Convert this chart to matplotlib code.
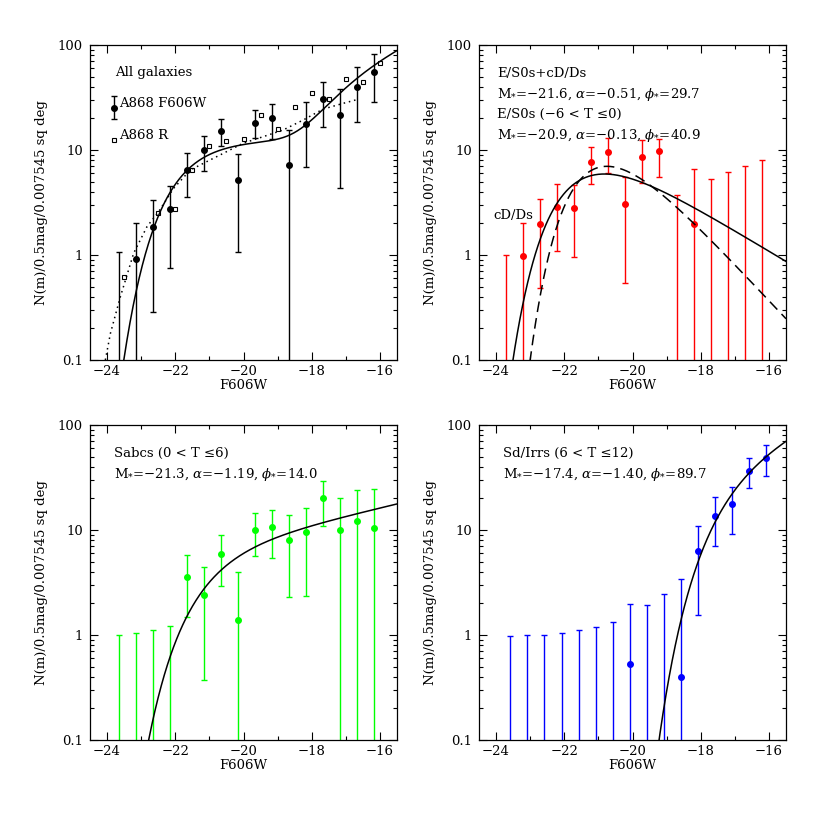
import numpy as np
import matplotlib
matplotlib.use('Agg')
import matplotlib.pyplot as plt
from matplotlib.ticker import MultipleLocator, LogLocator, NullFormatter

plt.rcParams['font.family'] = ['DejaVu Serif']
plt.rcParams['mathtext.fontset'] = 'dejavuserif'

nan = np.nan

# ---------------- data ----------------
# bin centres (F606W absolute magnitude)
x_tl = [-23.66, -23.16, -22.66, -22.16, -21.66, -21.16, -20.66, -20.16,
        -19.66, -19.16, -18.66, -18.16, -17.66, -17.16, -16.66, -16.16]
x_tr = [-23.71, -23.21, -22.71, -22.21, -21.71, -21.21, -20.71, -20.21,
        -19.71, -19.21, -18.71, -18.21, -17.71, -17.21, -16.71, -16.21]
x_br = [-23.58, -23.08, -22.58, -22.08, -21.58, -21.08, -20.58, -20.08,
        -19.58, -19.08, -18.58, -18.08, -17.58, -17.08, -16.58, -16.08]

# All galaxies, A868 F606W
all_y = [nan, 0.91, 1.86, 2.72, 6.45, 10.0, 15.3, 5.18, 18.2, 20.0, 7.2, 17.7, 30.6, 21.5, 40.1, 55.7]
all_lo = [0, 0, 0.289, 0.758, 3.6, 6.35, 10.8, 1.06, 13.1, 12.7, 0, 6.95, 16.7, 4.38, 18.3, 28.9]
all_hi = [1.07, 2.0, 3.34, 4.57, 9.3, 13.7, 19.7, 9.15, 24.0, 27.4, 15.5, 28.6, 44.8, 38.1, 61.3, 81.4]

# A868 R counts
r_x = [-23.5, -22.5, -22.0, -21.5, -21.0, -20.5, -20.0, -19.5, -19.0, -18.5,
       -18.0, -17.5, -17.0, -16.5, -16.0]
r_y = [0.62, 2.53, 2.74, 6.45, 10.8, 12.3, 12.6, 21.6, 15.8, 25.5, 34.7, 30.6, 47.1, 44.0, 68.0]

# dotted comparison curve
dot_x = [-24.05, -23.90, -23.61, -23.22, -22.83, -22.49, -22.05, -21.56, -21.08,
         -20.59, -20.01, -19.42, -18.84, -18.25, -17.67, -17.08, -16.64]
dot_y = [0.10, 0.18, 0.40, 1.04, 1.86, 2.58, 4.31, 6.45, 7.74,
         9.3, 11.6, 13.4, 15.5, 19.3, 24.5, 27.8, 30.4]

# E/S0s + cD/Ds
es_y = [nan, 0.98, 1.96, 2.89, 2.82, 7.74, 9.5, 3.06, 8.5, 9.7, nan, 1.99, nan, nan, nan, nan]
es_lo = [0, 0, 0.48, 1.09, 0.95, 4.74, 6.0, 0.545, 4.8, 5.5, 0, 0, 0, 0, 0, 0]
es_hi = [1.01, 2.0, 3.39, 4.71, 4.64, 10.6, 12.9, 5.57, 12.5, 12.7, 3.70, 6.55, 5.25, 6.13, 7.05, 7.96]

# Sabcs
sp_y = [nan, nan, nan, nan, 3.6, 2.4, 5.9, 1.39, 10.1, 10.6, 8.0, 9.5, 20.0, 10.0, 12.2, 10.4]
sp_lo = [0, 0, 0, 0, 1.5, 0.373, 2.93, 0, 5.7, 5.37, 2.28, 2.35, 10.9, 0, 0, 0]
sp_hi = [1.01, 1.05, 1.11, 1.22, 5.74, 4.47, 8.9, 4.01, 14.5, 15.4, 13.9, 16.3, 29.1, 20.2, 24.2, 24.8]

# Sd/Irrs
sd_y = [nan, nan, nan, nan, nan, nan, nan, 0.53, nan, nan, 0.395, 6.3, 13.6, 17.6, 36.7, 48.8]
sd_lo = [0, 0, 0, 0, 0, 0, 0, 0, 0, 0, 0, 1.55, 7.1, 9.15, 24.9, 32.9]
sd_hi = [0.98, 0.99, 1.01, 1.05, 1.11, 1.19, 1.34, 1.97, 1.92, 2.44, 3.41, 11.0, 20.4, 25.8, 48.3, 63.8]

# Schechter fit parameters (M*, alpha, phi*) as printed on the figure
fit_es_cd = (-21.6, -0.51, 29.7)
fit_es = (-20.9, -0.13, 40.9)
fit_sp = (-21.3, -1.19, 14.0)
fit_sd = (-17.4, -1.40, 89.7)


def schechter(M, pars):
    Ms, a, phi = pars
    x = 10 ** (0.4 * (Ms - M))
    return 0.5 * 0.4 * np.log(10) * phi * x ** (a + 1) * np.exp(-x)


# ---------------- figure ----------------
W = H = 830
fig = plt.figure(figsize=(8.3, 8.3), dpi=100)


def rect(l, t, r, b):
    return [l / W, 1 - b / H, (r - l) / W, (b - t) / H]


axes = [fig.add_axes(rect(90, 45, 397, 360)), fig.add_axes(rect(479, 45, 786, 360)),
        fig.add_axes(rect(90, 425, 397, 740)), fig.add_axes(rect(479, 425, 786, 740))]

FS = 9.5
for ax in axes:
    ax.set_xlim(-24.5, -15.5)
    ax.set_yscale('log')
    ax.set_ylim(0.1, 100)
    ax.xaxis.set_major_locator(MultipleLocator(2))
    ax.xaxis.set_minor_locator(MultipleLocator(1))
    ax.set_yticks([0.1, 1, 10, 100], labels=['0.1', '1', '10', '100'])
    ax.yaxis.set_minor_locator(LogLocator(base=10, subs=np.arange(2, 10)))
    ax.yaxis.set_minor_formatter(NullFormatter())
    ax.tick_params(which='both', direction='in', top=True, right=True, width=0.8,
                   labelsize=FS)
    ax.tick_params(which='major', length=6)
    ax.tick_params(which='minor', length=3)
    ax.tick_params(axis='x', pad=3.5)
    ax.tick_params(axis='y', pad=5)
    for s in ax.spines.values():
        s.set_linewidth(0.9)
    ax.set_xlabel('F606W', fontsize=FS, labelpad=0.5)
    ax.set_ylabel('N(m)/0.5mag/0.007545 sq deg', fontsize=FS)
    ax.yaxis.set_label_coords(-0.137, 0.5)

Mgrid = np.linspace(-24.5, -15.5, 600)


def draw_points(ax, x, y, lo, hi, color):
    x = np.asarray(x, float)
    lo = np.asarray(lo, float)
    hi = np.asarray(hi, float)
    y = np.asarray(y, float)
    lo_plot = np.where(lo > 0, lo, 1e-3)
    ax.vlines(x, lo_plot, hi, colors=color, lw=1.0)
    ax.plot(x, hi, ls='none', marker='_', ms=5, mew=1.0, color=color)
    m = lo > 0
    ax.plot(x[m], lo[m], ls='none', marker='_', ms=5, mew=1.0, color=color)
    ax.plot(x, y, ls='none', marker='o', ms=4, color=color)


# --- top left: all galaxies
ax = axes[0]
draw_points(ax, x_tl, all_y, all_lo, all_hi, 'black')
ax.plot(r_x, r_y, ls='none', marker='s', ms=3.5, mfc='white', mec='black', mew=0.8)
total = schechter(Mgrid, fit_es_cd) + schechter(Mgrid, fit_sp) + schechter(Mgrid, fit_sd)
ax.plot(Mgrid, total, color='black', lw=1.1)
ax.plot(dot_x, dot_y, color='black', lw=1.1, ls=(0, (1, 2.5)))
ax.text(0.081, 0.913, 'All galaxies', transform=ax.transAxes, fontsize=FS, va='center')
ax.errorbar([0.078], [0.801], yerr=[0.037], fmt='o', ms=4, color='black', capsize=2.5,
            elinewidth=1, transform=ax.transAxes)
ax.text(0.095, 0.813, 'A868 F606W', transform=ax.transAxes, fontsize=FS, va='center')
ax.plot([0.078], [0.698], ls='none', marker='s', ms=3.5, mfc='white', mec='black', mew=0.8,
        transform=ax.transAxes)
ax.text(0.095, 0.714, 'A868 R', transform=ax.transAxes, fontsize=FS, va='center')

# --- top right: E/S0s
ax = axes[1]
draw_points(ax, x_tr, es_y, es_lo, es_hi, '#ff0000')
ax.plot(Mgrid, schechter(Mgrid, fit_es_cd), color='black', lw=1.1)
ax.plot(Mgrid, schechter(Mgrid, fit_es), color='black', lw=1.1, ls=(0, (7, 4)))
ax.text(0.06, 0.91, 'E/S0s+cD/Ds', transform=ax.transAxes, fontsize=FS, va='center')
ax.text(0.06, 0.844, r'M$_{*}$=$-$21.6, $\alpha$=$-$0.51, $\phi_{*}$=29.7',
        transform=ax.transAxes, fontsize=FS, va='center')
ax.text(0.06, 0.778, 'E/S0s (\u22126 < T \u22640)', transform=ax.transAxes, fontsize=FS,
        va='center')
ax.text(0.06, 0.712, r'M$_{*}$=$-$20.9, $\alpha$=$-$0.13, $\phi_{*}$=40.9',
        transform=ax.transAxes, fontsize=FS, va='center')
ax.text(0.046, 0.46, 'cD/Ds', transform=ax.transAxes, fontsize=FS, va='center')

# --- bottom left: Sabcs
ax = axes[2]
draw_points(ax, x_tl, sp_y, sp_lo, sp_hi, '#00ff00')
ax.plot(Mgrid, schechter(Mgrid, fit_sp), color='black', lw=1.1)
ax.text(0.078, 0.91, 'Sabcs (0 < T \u22646)', transform=ax.transAxes, fontsize=FS, va='center')
ax.text(0.078, 0.844, r'M$_{*}$=$-$21.3, $\alpha$=$-$1.19, $\phi_{*}$=14.0',
        transform=ax.transAxes, fontsize=FS, va='center')

# --- bottom right: Sd/Irrs
ax = axes[3]
draw_points(ax, x_br, sd_y, sd_lo, sd_hi, '#0000ff')
ax.plot(Mgrid, schechter(Mgrid, fit_sd), color='black', lw=1.1)
ax.text(0.079, 0.91, 'Sd/Irrs (6 < T \u226412)', transform=ax.transAxes, fontsize=FS,
        va='center')
ax.text(0.079, 0.844, r'M$_{*}$=$-$17.4, $\alpha$=$-$1.40, $\phi_{*}$=89.7',
        transform=ax.transAxes, fontsize=FS, va='center')

fig.savefig('out.png', dpi=100)
